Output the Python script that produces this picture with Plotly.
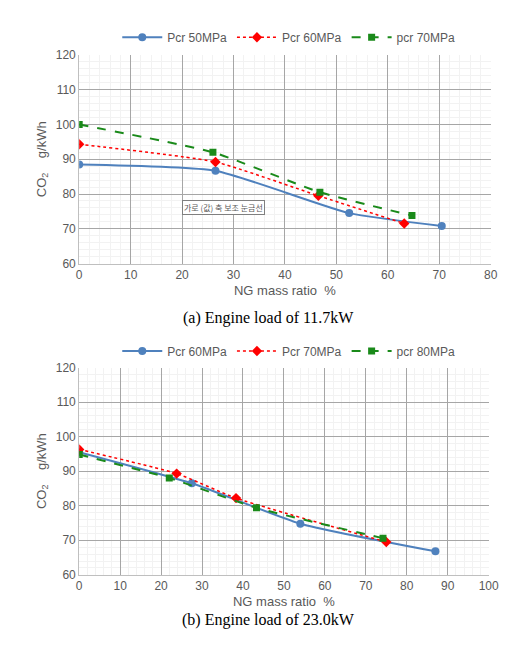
import plotly.graph_objects as go

# (a) Engine load of 11.7kW
a_names = ["Pcr 50MPa", "Pcr 60MPa", "pcr 70MPa"]
a_x = [[0, 26.5, 52.5, 70.5], [0, 26.5, 46.5, 63.2], [0, 26, 46.8, 64.7]]
a_y = [[88.5, 86.7, 74.5, 70.8], [94.3, 89.2, 79.5, 71.5], [100, 92, 80.5, 73.8]]

# (b) Engine load of 23.0kW
b_names = ["Pcr 60MPa", "Pcr 70MPa", "pcr 80MPa"]
b_x = [[0, 27.5, 54, 87], [0, 23.8, 38.3, 75], [0, 22, 43.3, 74.2]]
b_y = [[95.5, 86.5, 74.8, 66.8], [96.3, 89.3, 82.2, 69.5], [94.8, 88, 79.4, 70.6]]

colors = ["#4f81bd", "#ff0000", "#1a8a1a"]
dashes = ["solid", "dot", "dash"]
symbols = ["circle", "diamond", "square"]
sizes = [8, 8, 7]

fig = go.Figure()
for i in range(3):
    fig.add_trace(go.Scatter(
        x=a_x[i], y=a_y[i], name=a_names[i], mode="lines+markers",
        line=dict(color=colors[i], dash=dashes[i], width=2 if i != 1 else 1.5,
                  shape="spline", smoothing=0.5),
        marker=dict(symbol=symbols[i], size=sizes[i], color=colors[i]),
        xaxis="x", yaxis="y", legend="legend"))
for i in range(3):
    fig.add_trace(go.Scatter(
        x=b_x[i], y=b_y[i], name=b_names[i], mode="lines+markers",
        line=dict(color=colors[i], dash=dashes[i], width=2 if i != 1 else 1.5,
                  shape="spline", smoothing=0.5),
        marker=dict(symbol=symbols[i], size=sizes[i], color=colors[i]),
        xaxis="x2", yaxis="y2", legend="legend2"))

ax = dict(showline=True, linecolor="#bfbfbf", gridcolor="#a6a6a6", gridwidth=1,
          zeroline=False, ticks="", tickfont=dict(size=12, color="#595959"),
          minor=dict(dtick=2, showgrid=True, gridcolor="#f2f2f2"))
fig.update_layout(
    width=509, height=648, margin=dict(l=0, r=0, t=0, b=0),
    plot_bgcolor="white", paper_bgcolor="white",
    font=dict(family="Liberation Sans", color="#595959"),
    xaxis=dict(ax, domain=[0.1375, 0.967], range=[0, 80], dtick=10, anchor="y",
               title=dict(text="NG mass ratio  %", font=dict(size=13), standoff=4)),
    yaxis=dict(ax, domain=[0.608, 0.937], range=[60, 120], dtick=10, anchor="x",
               title=dict(text="CO<sub>2</sub>    g/kWh", font=dict(size=13), standoff=6)),
    xaxis2=dict(ax, domain=[0.1375, 0.963], range=[0, 100], dtick=10, anchor="y2",
                title=dict(text="NG mass ratio  %", font=dict(size=13), standoff=4)),
    yaxis2=dict(ax, domain=[0.117, 0.444], range=[60, 120], dtick=10, anchor="x2",
                title=dict(text="CO<sub>2</sub>    g/kWh", font=dict(size=13), standoff=6)),
    legend=dict(orientation="h", x=0.56, xanchor="center", y=0.965, yanchor="middle",
                font=dict(size=12), itemwidth=40),
    legend2=dict(orientation="h", x=0.56, xanchor="center", y=0.47, yanchor="middle",
                 font=dict(size=12), itemwidth=40),
    annotations=[
        dict(text="(a) Engine load of 11.7kW", xref="paper", yref="paper", x=0.52, y=1 - 310 / 648,
             showarrow=False, font=dict(family="Liberation Serif", size=16, color="black")),
        dict(text="(b) Engine load of 23.0kW", xref="paper", yref="paper", x=0.52, y=1 - 630 / 648,
             showarrow=False, font=dict(family="Liberation Serif", size=16, color="black")),
        dict(text="가로 (값) 축 보조 눈금선", xref="x", yref="y", x=28, y=76,
             showarrow=False, font=dict(family="Noto Sans CJK KR", size=8, color="#595959"),
             bordercolor="#7f7f7f", borderwidth=1, bgcolor="white", borderpad=1),
    ],
)

fig.write_html("out.html")
